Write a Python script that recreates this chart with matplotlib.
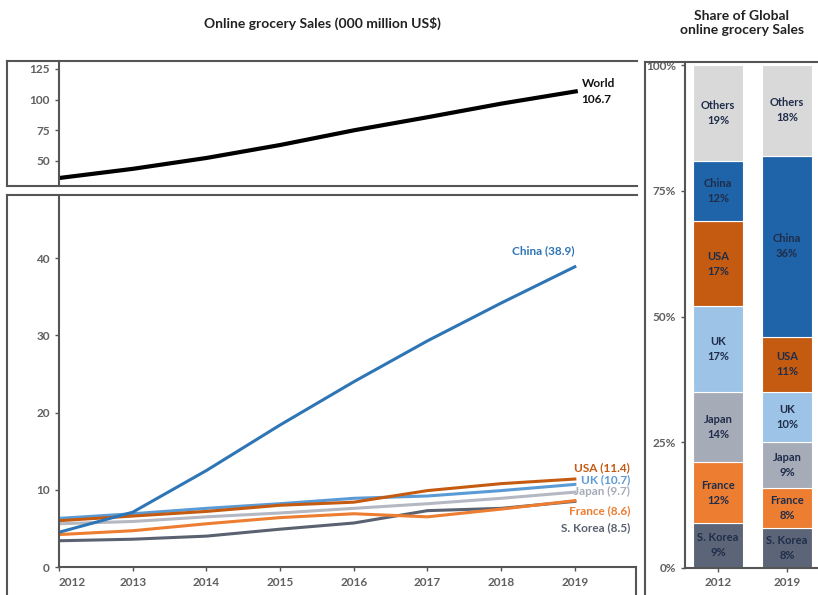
import matplotlib
matplotlib.use('Agg')
import matplotlib.pyplot as plt

plt.rcParams['font.family'] = ['Lato', 'DejaVu Sans']

# ---- data ----
years = [2012, 2013, 2014, 2015, 2016, 2017, 2018, 2019]
world = [36.0, 43.5, 52.4, 63.0, 75.0, 85.7, 96.8, 106.7]

countries = ['China', 'USA', 'UK', 'Japan', 'France', 'S. Korea']
sales = {
    'China':    [4.5, 7.1, 12.5, 18.4, 24.0, 29.3, 34.2, 38.9],
    'USA':      [6.0, 6.6, 7.2, 8.0, 8.4, 9.9, 10.8, 11.4],
    'UK':       [6.3, 6.9, 7.6, 8.2, 8.9, 9.2, 9.9, 10.7],
    'Japan':    [5.6, 5.9, 6.5, 7.0, 7.6, 8.2, 8.9, 9.7],
    'France':   [4.2, 4.7, 5.6, 6.4, 6.9, 6.5, 7.5, 8.6],
    'S. Korea': [3.4, 3.6, 4.0, 4.9, 5.7, 7.3, 7.6, 8.5],
}

share_years = ['2012', '2019']
share_names = ['S. Korea', 'France', 'Japan', 'UK', 'USA', 'China', 'Others']
share_2012 = [9, 12, 14, 17, 17, 12, 19]
share_2019 = [8, 8, 9, 10, 11, 36, 18]

line_colors = {'China': '#2e75b6', 'USA': '#c55a11', 'UK': '#5b9bd5',
               'Japan': '#b4b8c2', 'France': '#ed7d31', 'S. Korea': '#5a6170'}
bar_colors = {'S. Korea': '#5b6577', 'France': '#ed7d31', 'Japan': '#a6abb8',
              'UK': '#9dc3e6', 'USA': '#c55a11', 'China': '#1f63a8',
              'Others': '#d9d9d9'}

W, H = 818, 595
fig = plt.figure(figsize=(W / 100, H / 100), dpi=100)


def box(x0, y0, x1, y1):
    # pixel box (top-left origin) -> figure fraction rect
    return [x0 / W, 1 - y1 / H, (x1 - x0) / W, (y1 - y0) / H]


frame_col = '#555555'
tick_col = '#555555'


def frame(rect, sides=('left', 'top', 'bottom', 'right')):
    fa = fig.add_axes(rect, zorder=0)
    fa.set_xticks([])
    fa.set_yticks([])
    for s in fa.spines:
        fa.spines[s].set_visible(s in sides)
        fa.spines[s].set_color(frame_col)
        fa.spines[s].set_linewidth(1.5)
    fa.patch.set_alpha(0)
    return fa


def style(ax):
    for s in ['top', 'right']:
        ax.spines[s].set_visible(False)
    for s in ['left', 'bottom']:
        ax.spines[s].set_color(frame_col)
        ax.spines[s].set_linewidth(1.5)
    ax.tick_params(colors=frame_col, labelcolor='#606060', labelsize=8.5,
                   length=3, width=1)
    for lab in ax.get_xticklabels() + ax.get_yticklabels():
        lab.set_fontweight('bold')
    ax.patch.set_alpha(0)


def bold_ticks(ax):
    for lab in ax.get_xticklabels() + ax.get_yticklabels():
        lab.set_fontweight('bold')


# ---- titles ----
fig.text(322 / W, 1 - 23 / H, 'Online grocery Sales (000 million US$)',
         ha='center', va='center', fontsize=10, fontweight='bold', color='#222222')
fig.text(742 / W, 1 - 23 / H, 'Share of Global\nonline grocery Sales',
         ha='center', va='center', fontsize=10, fontweight='bold', color='#222222',
         linespacing=1.3)

# ---- top panel: world ----
frame(box(7, 61, 637, 186), sides=('left', 'top', 'bottom'))
ax1 = fig.add_axes(box(59, 61, 637, 186))
style(ax1)
ax1.spines['bottom'].set_visible(False)
ax1.plot(years, world, color='black', lw=3)
ax1.set_xlim(2012, 2019.83)
ax1.set_ylim(29.5, 131.5)
ax1.set_yticks([50, 75, 100, 125])
ax1.set_xticks([])
bold_ticks(ax1)
ax1.text(years[-1] + 0.08, world[-1], 'World\n%.1f' % world[-1], ha='left',
         va='center', fontsize=8.5, fontweight='bold', color='#111111',
         linespacing=1.5)

# ---- bottom panel: countries ----
frame(box(7, 195, 637, 600), sides=('left', 'top'))
ax2 = fig.add_axes(box(59, 195, 636, 567))
style(ax2)
for c in countries[::-1]:
    ax2.plot(years, sales[c], color=line_colors[c], lw=2.2)
ax2.set_xlim(2012, 2019.83)
ax2.set_ylim(0, 48.2)
ax2.set_yticks([0, 10, 20, 30, 40])
ax2.set_xticks(years)
ax2.tick_params(axis='x', pad=4)
bold_ticks(ax2)
ax2.get_xticklabels()[0].set_horizontalalignment('left')
# short drop from the x axis end
ax2.plot([1, 1], [0, -0.2], transform=ax2.transAxes, color=frame_col,
         lw=1.5, clip_on=False)

ax2.text(years[-1], sales['China'][-1] + 1.4, 'China (%.1f)' % sales['China'][-1],
         ha='right', va='bottom', fontsize=8.5, fontweight='bold',
         color=line_colors['China'])
label_y = {'USA': 12.9, 'UK': 11.3, 'Japan': 9.8, 'France': 7.3, 'S. Korea': 5.1}
for c in ['USA', 'UK', 'Japan', 'France', 'S. Korea']:
    col = line_colors[c]
    if c == 'Japan':
        col = '#a6abb8'
    ax2.text(2019.75, label_y[c], '%s (%.1f)' % (c, sales[c][-1]),
             ha='right', va='center', fontsize=8.5, fontweight='bold', color=col)

# ---- right panel: shares ----
frame(box(645, 62, 830, 600), sides=('left', 'top'))
ax3 = fig.add_axes(box(685, 62, 818, 568))
style(ax3)
ax3.set_ylim(0, 100.6)
ax3.set_xlim(-0.48, 1.45)
pos = [0, 1]
for i, vals in enumerate([share_2012, share_2019]):
    bottom = 0
    for name, v in zip(share_names, vals):
        ax3.bar(pos[i], v, bottom=bottom, width=0.72, color=bar_colors[name],
                edgecolor='white', linewidth=0.8)
        ax3.text(pos[i], bottom + v / 2, '%s\n%d%%' % (name, v), ha='center',
                 va='center', fontsize=8, fontweight='bold', color='#1f2d4a',
                 linespacing=1.45)
        bottom += v
ax3.set_xticks(pos)
ax3.set_xticklabels(share_years)
ax3.set_yticks([0, 25, 50, 75, 100])
ax3.set_yticklabels(['0%', '25%', '50%', '75%', '100%'])
bold_ticks(ax3)

fig.savefig('out.png', dpi=100)
